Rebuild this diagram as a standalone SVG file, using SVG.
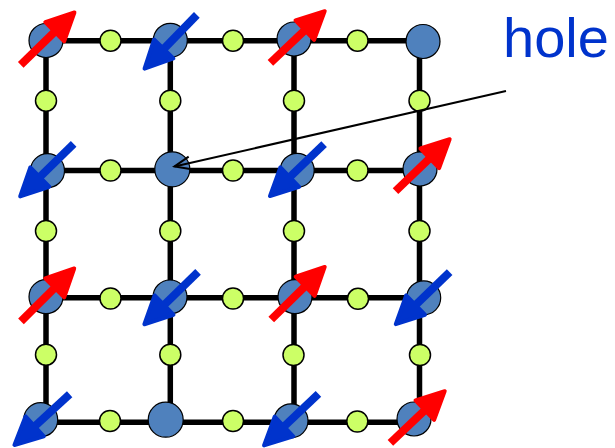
<svg xmlns="http://www.w3.org/2000/svg" width="615" height="448" viewBox="0 0 615 448">
<style>
.grid{stroke:#000;stroke-width:5.5;fill:none}
.big{fill:#4F81BD;stroke:#000;stroke-width:1.2}
.small{fill:#CCFF66;stroke:#000;stroke-width:1.5}
.up{fill:#FF0000;stroke:#FF0000}
.dn{fill:#0033CC;stroke:#0033CC}
.lbl{font-family:"Liberation Sans",Arial,sans-serif;font-size:56px;fill:#0033CC}
</style>
<defs>
<g id="spin"><line x1="-38.5" y1="0" x2="12" y2="0" stroke-width="8"/><polygon points="36.5,0 9,-13.5 9,13.5" stroke-width="4" stroke-linejoin="round"/></g>
<marker id="vhead" markerUnits="userSpaceOnUse" viewBox="-18 -8 20 16" refX="0" refY="0" markerWidth="20" markerHeight="16" orient="auto">
<path d="M-16,-6.5 L0,0 L-16,6.5" fill="none" stroke="#000" stroke-width="2"/>
</marker>
</defs>
<g id="connectors">
<line class="grid" x1="46" y1="40.7" x2="419.5" y2="40.7"/>
<line class="grid" x1="46" y1="170.5" x2="419.5" y2="170.5"/>
<line class="grid" x1="46" y1="297.7" x2="419.5" y2="297.7"/>
<line class="grid" x1="46" y1="422.3" x2="419.5" y2="422.3"/>
<line class="grid" x1="46" y1="40.7" x2="46" y2="422.3"/>
<line class="grid" x1="170.3" y1="40.7" x2="170.3" y2="422.3"/>
<line class="grid" x1="294" y1="40.7" x2="294" y2="422.3"/>
<line class="grid" x1="419.5" y1="40.7" x2="419.5" y2="422.3"/>
</g>
<g id="small-nodes">
<circle class="small" cx="110.5" cy="40.7" r="10.5"/>
<circle class="small" cx="233" cy="40.7" r="10.5"/>
<circle class="small" cx="357.5" cy="40.7" r="10.5"/>
<circle class="small" cx="110.5" cy="170.5" r="10.5"/>
<circle class="small" cx="233" cy="170.5" r="10.5"/>
<circle class="small" cx="357.5" cy="170.5" r="10.5"/>
<circle class="small" cx="110.5" cy="298.5" r="10.5"/>
<circle class="small" cx="233" cy="298.5" r="10.5"/>
<circle class="small" cx="358" cy="298.8" r="10.5"/>
<circle class="small" cx="110" cy="421" r="10.5"/>
<circle class="small" cx="233" cy="421" r="10.5"/>
<circle class="small" cx="357.3" cy="421.5" r="10.5"/>
<circle class="small" cx="46" cy="100.7" r="10.5"/>
<circle class="small" cx="170.3" cy="100.7" r="10.5"/>
<circle class="small" cx="294" cy="100.7" r="10.5"/>
<circle class="small" cx="419.5" cy="100.7" r="10.5"/>
<circle class="small" cx="46" cy="231" r="10.5"/>
<circle class="small" cx="170.3" cy="231" r="10.5"/>
<circle class="small" cx="294" cy="231" r="10.5"/>
<circle class="small" cx="419.5" cy="231" r="10.5"/>
<circle class="small" cx="46" cy="354.7" r="10.5"/>
<circle class="small" cx="170.3" cy="354.7" r="10.5"/>
<circle class="small" cx="293.5" cy="355" r="10.5"/>
<circle class="small" cx="420" cy="355" r="10.5"/>
</g>
<g id="n11"><circle class="big" cx="46" cy="40.5" r="17"/></g>
<g id="n12"><circle class="big" cx="170.3" cy="40.3" r="17"/></g>
<g id="n13"><circle class="big" cx="294" cy="39" r="17"/></g>
<g id="n14"><circle class="big" cx="423" cy="41.5" r="17"/></g>
<g id="n21"><circle class="big" cx="47.5" cy="170.7" r="17"/></g>
<g id="hole-node"><circle class="big" cx="172.3" cy="169.3" r="17.5"/></g>
<g id="n23"><circle class="big" cx="297.2" cy="170.3" r="17"/></g>
<g id="n24"><circle class="big" cx="420" cy="169" r="17"/></g>
<g id="n31"><circle class="big" cx="46" cy="296.7" r="17"/></g>
<g id="n32"><circle class="big" cx="170" cy="297" r="17"/></g>
<g id="n33"><circle class="big" cx="295" cy="296.7" r="17"/></g>
<g id="n34"><circle class="big" cx="423.7" cy="297.8" r="17"/></g>
<g id="n41"><circle class="big" cx="40.7" cy="419.7" r="17"/></g>
<g id="n42"><circle class="big" cx="165.7" cy="419.7" r="17.5"/></g>
<g id="n43"><circle class="big" cx="291" cy="420.8" r="17"/></g>
<g id="n44"><circle class="big" cx="414" cy="419" r="17"/></g>
<g id="spins">
<use href="#spin" class="up" transform="translate(48.3,38) rotate(-44.3)"/>
<use href="#spin" class="dn" transform="translate(170,42.5) rotate(134.2)"/>
<use href="#spin" class="up" transform="translate(298.3,36.3) rotate(-43.6)"/>
<use href="#spin" class="dn" transform="translate(46.2,170.8) rotate(135.5)"/>
<use href="#spin" class="dn" transform="translate(296.3,170.8) rotate(136.2)"/>
<use href="#spin" class="up" transform="translate(423.3,164.5) rotate(-43.8)"/>
<use href="#spin" class="up" transform="translate(48.3,294.2) rotate(-44.8)"/>
<use href="#spin" class="dn" transform="translate(170.5,298.8) rotate(135.7)"/>
<use href="#spin" class="up" transform="translate(298.7,292.5) rotate(-44.5)"/>
<use href="#spin" class="dn" transform="translate(422,298.8) rotate(135.9)"/>
<use href="#spin" class="dn" transform="translate(41.3,420.3) rotate(137.4)"/>
<use href="#spin" class="dn" transform="translate(290.5,420.3) rotate(136.5)"/>
<use href="#spin" class="up" transform="translate(418.3,416.3) rotate(-43.6)"/>
</g>
<g id="hole-label">
<text class="lbl" x="503" y="57">hole</text>
<path d="M506,91 L174.5,166.5" stroke="#000" stroke-width="2" fill="none" marker-end="url(#vhead)"/>
</g>
</svg>
